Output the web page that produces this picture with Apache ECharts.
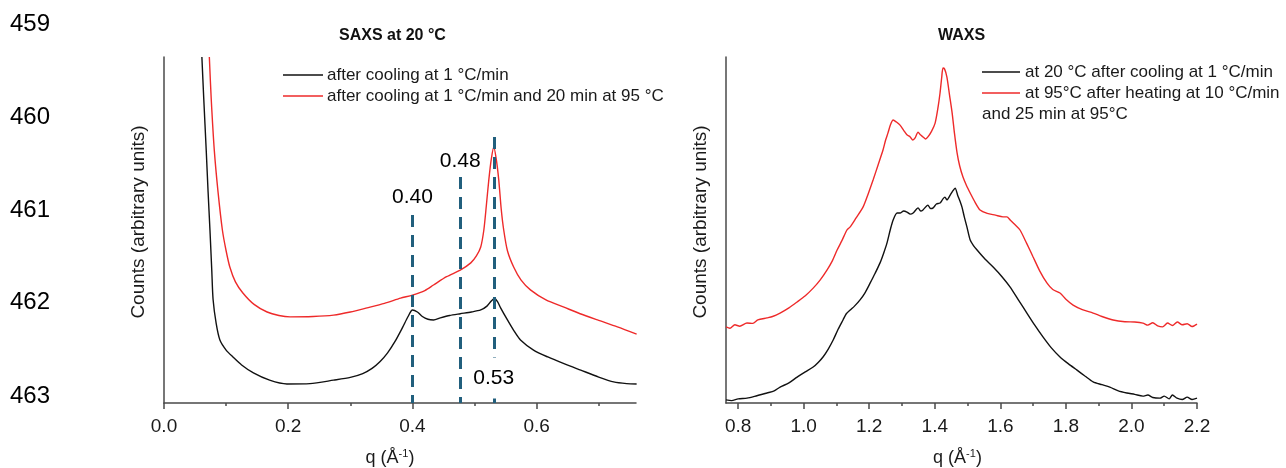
<!DOCTYPE html>
<html><head><meta charset="utf-8">
<script src="https://cdn.jsdelivr.net/npm/echarts@6/dist/echarts.min.js"></script>
<style>html,body{margin:0;padding:0;background:#fff}#c{width:1286px;height:468px}</style>
</head><body><div id="c"></div>
<script>
// ---------- data ----------
const lineNumbers = ['459', '460', '461', '462', '463'];

const saxsTicks = [0, 0.2, 0.4, 0.6];
const saxsMinorTicks = [0.1, 0.3, 0.5, 0.7];
const waxsTicks = [0.8, 1.0, 1.2, 1.4, 1.6, 1.8, 2.0, 2.2];
const waxsMinorTicks = [0.9, 1.1, 1.3, 1.5, 1.7, 1.9, 2.1];

const saxsBlackQ = [0.061,0.064,0.068,0.071,0.074,0.077,0.079,0.084,0.090,0.100,0.111,0.125,0.144,0.170,0.198,0.235,0.273,0.300,0.320,0.335,0.348,0.360,0.372,0.384,0.393,0.400,0.408,0.416,0.425,0.434,0.445,0.460,0.477,0.495,0.510,0.520,0.527,0.532,0.537,0.542,0.553,0.563,0.574,0.595,0.618,0.645,0.671,0.700,0.724,0.745,0.761];
const saxsBlackI = [100,88,73,61,50,38,30,23,18.2,15.3,13.3,11,8.7,6.6,5.5,5.6,6.6,7.4,8.5,10.0,12.0,14.5,17.8,21.8,25.0,26.9,26.3,25.0,24.2,24.0,24.6,25.3,25.8,26.3,26.9,28.0,29.5,30.2,29.3,27.5,24.0,21,18.2,15.3,13.3,11.3,9.5,7.5,6.1,5.6,5.5];

const saxsRedQ = [0.073,0.076,0.081,0.087,0.094,0.100,0.106,0.115,0.127,0.145,0.166,0.185,0.203,0.240,0.273,0.300,0.327,0.355,0.381,0.400,0.420,0.434,0.455,0.477,0.494,0.503,0.510,0.515,0.519,0.523,0.527,0.531,0.535,0.539,0.543,0.547,0.553,0.563,0.575,0.590,0.615,0.644,0.670,0.698,0.730,0.761];
const saxsRedI = [100,88,73,61,50,44,39.3,35,31.8,28.5,26.3,25.3,24.9,25.0,25.4,26.3,27.5,28.8,30.3,31.2,32.5,34.1,36.5,38.4,40.5,42.5,45.1,50,57,64.5,70.5,74.0,70.5,64.5,56,50,44,39.3,35.5,32.7,29.8,27.7,25.8,24.0,22.0,19.9];

const waxsBlackQ = [0.763,0.78,0.80,0.827,0.85,0.888,0.91,0.928,0.955,0.980,1.005,1.029,1.045,1.059,1.075,1.090,1.105,1.120,1.130,1.142,1.155,1.172,1.188,1.203,1.218,1.233,1.244,1.254,1.264,1.273,1.285,1.294,1.305,1.315,1.325,1.334,1.349,1.357,1.364,1.379,1.387,1.395,1.405,1.416,1.425,1.431,1.437,1.447,1.455,1.462,1.470,1.477,1.483,1.490,1.498,1.508,1.518,1.529,1.553,1.578,1.605,1.630,1.655,1.681,1.705,1.730,1.755,1.782,1.808,1.834,1.858,1.883,1.910,1.934,1.960,1.986,2.010,2.035,2.050,2.065,2.087,2.100,2.115,2.125,2.139,2.155,2.170,2.185,2.200];
const waxsBlackI = [0.9,0.7,1.2,1.4,1.9,2.9,3.5,4.6,5.8,7.5,9.0,10.4,11.8,13.3,15.6,18.2,21.3,24.0,25.8,26.9,28.0,29.8,32.0,34.7,37.5,40.5,43.3,46.2,50.0,52.9,54.9,54.9,55.5,55.2,54.6,54.9,56.4,55.5,55.8,57.2,56.2,56.4,57.5,57.8,59.0,59.5,58.7,60.1,61.3,62.1,60.0,58.3,56.6,53.8,50.9,47.1,45.5,44.2,41.6,39.3,36.5,33.5,29.8,26.0,22.5,19.1,16.0,13.3,11.3,9.5,7.8,6.1,5.3,4.6,3.5,2.9,2.5,2.0,2.3,1.6,1.4,2.0,1.2,2.3,1.4,1.0,1.7,1.0,1.4];

const waxsRedQ = [0.763,0.775,0.790,0.805,0.827,0.845,0.860,0.888,0.905,0.928,0.955,0.980,1.005,1.029,1.050,1.071,1.087,1.102,1.117,1.132,1.142,1.160,1.181,1.197,1.212,1.227,1.242,1.250,1.257,1.265,1.273,1.283,1.294,1.305,1.315,1.325,1.333,1.340,1.349,1.356,1.364,1.372,1.379,1.390,1.401,1.410,1.416,1.421,1.425,1.430,1.437,1.445,1.453,1.460,1.468,1.476,1.486,1.497,1.508,1.523,1.538,1.560,1.585,1.608,1.620,1.630,1.645,1.660,1.680,1.700,1.720,1.742,1.760,1.782,1.800,1.822,1.850,1.883,1.910,1.944,1.980,2.010,2.035,2.050,2.065,2.080,2.095,2.110,2.125,2.140,2.155,2.170,2.185,2.200];
const waxsRedI = [22.0,21.6,22.6,22.2,23.1,23.0,24.0,24.6,25.0,26.0,27.5,29.2,31.0,33.2,35.5,38.4,41.0,44.2,47.0,50.0,50.9,53.5,56.6,60.5,64.5,68.8,73.1,76.0,78.0,80.5,81.8,81.2,80.3,78.8,77.5,76.9,76.0,76.6,78.3,77.5,76.9,76.3,76.9,78.5,80.9,85.5,89.6,94.0,96.8,96.5,94.2,89.0,83.8,78.0,72.3,68.5,65.3,62.8,60.7,58.0,55.8,54.8,54.3,53.8,53.8,52.9,51.5,50.0,46.2,42.2,38.2,34.7,32.8,31.8,30.0,28.3,27.0,26.0,25.0,24.0,23.5,23.4,23.1,22.5,23.2,22.3,22.0,23.1,22.4,23.4,22.6,22.9,22.1,22.8];

const peakQ = [0.400, 0.477, 0.531];
const peakLineTop = [54.3, 65.3, 76.9];
const peakLabels = ['0.40', '0.48', '0.53'];
const peakLabelY = [59.5, 69.9, 7.2];

const saxsLegend = ['after cooling at 1 °C/min', 'after cooling at 1 °C/min and 20 min at 95 °C'];
const waxsLegend = ['at 20 °C after cooling at 1 °C/min', 'at 95°C after heating at 10 °C/min', 'and 25 min at 95°C'];

// ---------- chart ----------
const FONT = '"Liberation Sans", Arial, sans-serif';
const AXIS_COLOR = '#4a4a4a';
const TXT = '#1a1a1a';
const BLACK = '#111111';
const RED = '#ee2a2a';
const DASH = '#215f7d';

const zip = (a, b) => a.map((v, i) => [v, b[i]]);

function majorX(grid, min, max, ticks) {
  return {
    type: 'value', gridIndex: grid, min: min, max: max, position: 'bottom',
    axisLine: { show: true, onZero: false, lineStyle: { color: AXIS_COLOR, width: 1.5 } },
    axisTick: { show: true, customValues: ticks, length: 6, lineStyle: { color: AXIS_COLOR, width: 1.5 } },
    axisLabel: { show: true, customValues: ticks, formatter: v => v.toFixed(1), margin: 14,
      fontFamily: FONT, fontSize: 19, color: TXT },
    splitLine: { show: false },
    name: '{a|q (Å}{b|-1}{a|)}', nameLocation: 'middle', nameGap: 45,
    nameTextStyle: { fontFamily: FONT, color: TXT, padding: grid === 0 ? [0, 20, 0, 0] : [0, 8, 0, 0],
      rich: { a: { fontFamily: FONT, fontSize: 18, color: TXT },
              b: { fontFamily: FONT, fontSize: 11, color: TXT, padding: [0, 0, 9, 0] } } }
  };
}
function minorX(grid, min, max, ticks) {
  return {
    type: 'value', gridIndex: grid, min: min, max: max, position: 'bottom',
    axisLine: { show: false, onZero: false },
    axisTick: { show: true, customValues: ticks, length: 3, lineStyle: { color: AXIS_COLOR, width: 1.5 } },
    axisLabel: { show: false },
    splitLine: { show: false }
  };
}
function yAx(grid) {
  return {
    type: 'value', gridIndex: grid, min: 0, max: 100,
    axisLine: { show: true, lineStyle: { color: AXIS_COLOR, width: 1.5 } },
    axisTick: { show: false }, axisLabel: { show: false }, splitLine: { show: false },
    name: 'Counts (arbitrary units)', nameLocation: 'middle', nameGap: 16,
    nameTextStyle: { fontFamily: FONT, fontSize: 19, color: TXT, padding: [0, 0, 0, 16] }
  };
}

const lineSeries = (name, xi, yi, data, color) => ({
  name: name, type: 'line', xAxisIndex: xi, yAxisIndex: yi, data: data,
  showSymbol: false, symbol: 'none', smooth: 0.25, clip: true,
  lineStyle: { color: color, width: 1.4 }, z: 3
});

const markLines = peakQ.map((q, i) => [
  { coord: [q, peakLineTop[i]] }, { coord: [q, 0] }
]);

const annotationData = peakQ.map((q, i) => ({
  value: [q, peakLabelY[i]], name: peakLabels[i],
  label: i === 2 ? { backgroundColor: '#ffffff', padding: [10, 2, 10, 2] } : {}
}));

const graphics = [];
const lineNumY = [24, 117, 210, 302, 396];
lineNumbers.forEach((t, i) => graphics.push({
  type: 'text', x: 10, y: lineNumY[i],
  style: { text: t, fontFamily: FONT, fontSize: 24, fill: '#000', verticalAlign: 'middle' }
}));
// SAXS legend
[[BLACK, 75], [RED, 96]].forEach(([c, y], i) => {
  graphics.push({ type: 'line', shape: { x1: 283, y1: y, x2: 323, y2: y }, style: { stroke: c, lineWidth: 1.4 } });
  graphics.push({ type: 'text', x: 327, y: y, style: { text: saxsLegend[i], fontFamily: FONT, fontSize: 17, fill: TXT, verticalAlign: 'middle' } });
});
// WAXS legend
[[BLACK, 72], [RED, 93]].forEach(([c, y], i) => {
  graphics.push({ type: 'line', shape: { x1: 982, y1: y, x2: 1020, y2: y }, style: { stroke: c, lineWidth: 1.4 } });
  graphics.push({ type: 'text', x: 1025, y: y, style: { text: waxsLegend[i], fontFamily: FONT, fontSize: 17, fill: TXT, verticalAlign: 'middle' } });
});
graphics.push({ type: 'text', x: 982, y: 114, style: { text: waxsLegend[2], fontFamily: FONT, fontSize: 17, fill: TXT, verticalAlign: 'middle' } });

const option = {
  animation: false,
  backgroundColor: '#ffffff',
  title: [
    { text: 'SAXS at 20 °C', left: 339, top: 28, padding: 0,
      textStyle: { fontFamily: FONT, fontSize: 16, fontWeight: 'bold', color: '#111' } },
    { text: 'WAXS', left: 938, top: 28, padding: 0,
      textStyle: { fontFamily: FONT, fontSize: 16, fontWeight: 'bold', color: '#111' } }
  ],
  grid: [
    { left: 164, top: 57, width: 472, height: 346, containLabel: false, outerBoundsMode: 'none' },
    { left: 726, top: 57, width: 471, height: 346, containLabel: false, outerBoundsMode: 'none' }
  ],
  xAxis: [
    majorX(0, 0, 0.76, saxsTicks),
    minorX(0, 0, 0.76, saxsMinorTicks),
    majorX(1, 0.763, 2.2, waxsTicks),
    minorX(1, 0.763, 2.2, waxsMinorTicks)
  ],
  yAxis: [yAx(0), yAx(1)],
  series: [
    Object.assign(lineSeries('SAXS ' + saxsLegend[0], 0, 0, zip(saxsBlackQ, saxsBlackI), BLACK), {
      markLine: { silent: true, symbol: ['none', 'none'], label: { show: false },
        lineStyle: { color: DASH, width: 3, type: [12, 8] }, data: markLines, z: 4 }
    }),
    lineSeries('SAXS ' + saxsLegend[1], 0, 0, zip(saxsRedQ, saxsRedI), RED),
    {
      name: 'peak labels', type: 'scatter', xAxisIndex: 0, yAxisIndex: 0,
      symbolSize: 0, data: annotationData, z: 6, zlevel: 1, silent: true,
      itemStyle: { opacity: 1 },
      label: { show: true, position: 'inside', formatter: p => p.name, opacity: 1,
        textBorderWidth: 0, fontFamily: FONT, fontSize: 21, color: '#000' }
    },
    lineSeries('WAXS ' + waxsLegend[0], 2, 1, zip(waxsBlackQ, waxsBlackI), BLACK),
    lineSeries('WAXS ' + waxsLegend[1], 2, 1, zip(waxsRedQ, waxsRedI), RED)
  ],
  graphic: graphics
};

const chart = echarts.init(document.getElementById('c'), null, { renderer: 'canvas' });
chart.setOption(option);
</script>
</body></html>
